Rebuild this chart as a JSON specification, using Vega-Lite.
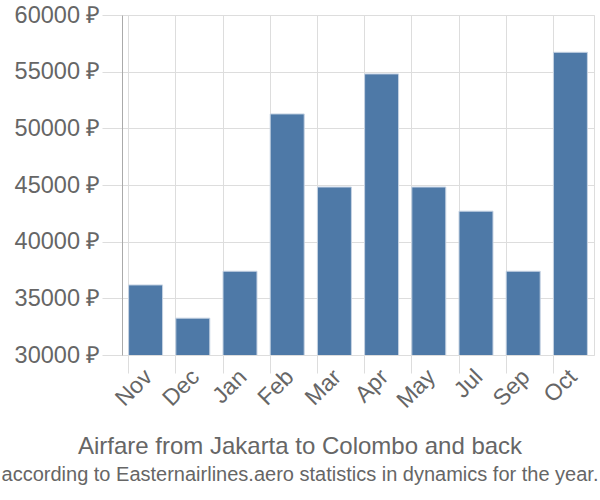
{
  "$schema": "https://vega.github.io/schema/vega-lite/v6.json",
  "autosize": "none",
  "width": 472,
  "height": 340,
  "padding": {"left": 122, "top": 15, "right": 6, "bottom": 145},
  "background": "white",
  "config": {
    "font": "Liberation Sans",
    "view": {"stroke": "#dddddd"}
  },
  "title": {
    "text": "Airfare from Jakarta to Colombo and back",
    "subtitle": "according to Easternairlines.aero statistics in dynamics for the year.",
    "orient": "bottom",
    "anchor": "middle",
    "dx": -58,
    "offset": 23,
    "fontSize": 24,
    "fontWeight": "normal",
    "color": "#666666",
    "subtitleFontSize": 20,
    "subtitleColor": "#666666",
    "subtitlePadding": 6
  },
  "data": {
    "values": [
      {"month": "Nov", "price": 36180},
      {"month": "Dec", "price": 33250},
      {"month": "Jan", "price": 37390},
      {"month": "Feb", "price": 51270},
      {"month": "Mar", "price": 44820},
      {"month": "Apr", "price": 54800},
      {"month": "May", "price": 44820},
      {"month": "Jul", "price": 42690},
      {"month": "Sep", "price": 37390},
      {"month": "Oct", "price": 56710}
    ]
  },
  "mark": {"type": "bar", "color": "#4e79a7", "stroke": "#c6d3e3", "strokeWidth": 1, "clip": true},
  "encoding": {
    "x": {
      "field": "month",
      "type": "nominal",
      "sort": null,
      "scale": {"paddingInner": 0.28, "paddingOuter": 0.14},
      "axis": {
        "title": null,
        "bandPosition": 0,
        "grid": true,
        "gridColor": "#dddddd",
        "domain": false,
        "tickColor": "#dddddd",
        "tickSize": 18,
        "labelAngle": -45,
        "labelAlign": "right",
        "labelBaseline": "middle",
        "labelFontSize": 23,
        "labelColor": "#666666",
        "labelPadding": 0,
        "labelOffset": 3
      }
    },
    "y": {
      "field": "price",
      "type": "quantitative",
      "scale": {"domain": [30000, 60000], "zero": false, "nice": false},
      "axis": {
        "title": null,
        "values": [30000, 35000, 40000, 45000, 50000, 55000, 60000],
        "format": "d",
        "labelExpr": "datum.label + ' ₽'",
        "grid": true,
        "gridColor": "#dddddd",
        "domain": true,
        "domainColor": "#aaaaaa",
        "tickColor": "#dddddd",
        "tickSize": 20,
        "labelFontSize": 23.5,
        "labelColor": "#666666",
        "labelPadding": 2
      }
    }
  }
}
